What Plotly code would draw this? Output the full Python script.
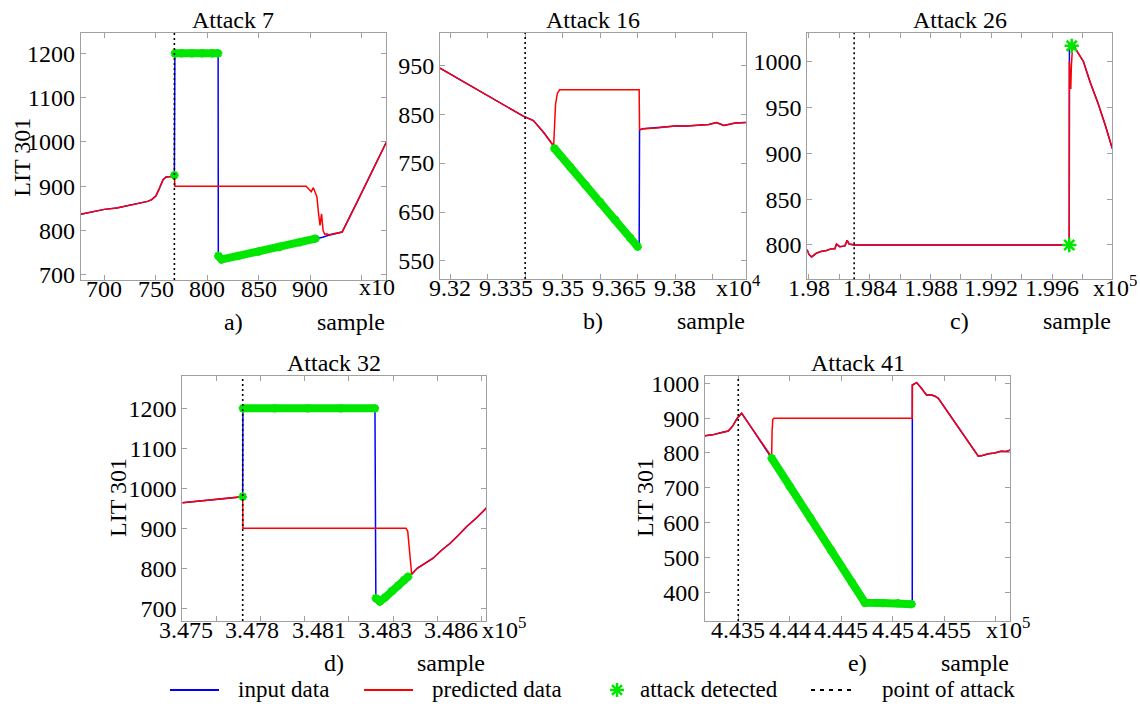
import plotly.graph_objects as go

# ---------------- data ----------------
# Panel a) Attack 7  (x in units of 10 samples)
a_red_x = [677, 690, 700, 712, 725, 735, 742, 746, 750, 753, 757, 760, 765, 768, 768.5, 800, 850, 896,
           899, 901, 903, 905, 906.5, 908, 909.5, 911, 912.5, 914, 916, 918, 925, 931, 945, 960, 974]
a_red_y = [837, 843, 848, 851, 857, 862, 866, 870, 878, 893, 915, 921, 922, 925, 900, 900, 900, 900,
           893, 888, 897, 884, 876, 840, 812, 838, 800, 792, 793, 791, 794, 797, 862, 932, 1000]
a_blue_x = [677, 690, 700, 712, 725, 735, 742, 746, 750, 753, 757, 760, 765, 768, 768.5, 810.5, 810.7,
            814, 830, 850, 870, 890, 905, 912, 917, 925, 931, 945, 960, 974]
a_blue_y = [837, 843, 848, 851, 857, 862, 866, 870, 878, 893, 915, 921, 922, 925, 1200, 1200, 743,
            735, 743, 753, 763, 774, 782, 785, 789, 794, 797, 862, 932, 1000]
a_det_x = [768, None, 768.5, 775, 785, 795, 805, 810.5, None, 810.7, 814, 830, 850, 870, 890, 905]
a_det_y = [925, None, 1200, 1200, 1200, 1200, 1200, 1200, None, 743, 735, 743, 753, 763, 774, 782]
a_attack = 768

# Panel b) Attack 16
b_red_x = [93173, 93280, 93395, 93422, 93450, 93476, 93478, 93481, 93486, 93492, 93600, 93704, 93705,
           93715, 93750, 93780, 93800, 93830, 93860, 93890, 93910, 93930, 93960, 93990]
b_red_y = [944, 897, 846, 837, 812, 785, 830, 870, 893, 900, 900, 900, 818,
           820, 822, 825, 826, 826, 827, 829, 833, 827, 832, 833]
b_blue_x = [93173, 93280, 93395, 93422, 93450, 93476, 93478, 93520, 93560, 93600, 93640, 93680, 93700,
            93704, 93705, 93715, 93750, 93780, 93800, 93830, 93860, 93890, 93910, 93930, 93960, 93990]
b_blue_y = [944, 897, 846, 837, 812, 785, 780, 742, 706, 670, 634, 597, 579,
            579, 818, 820, 822, 825, 826, 826, 827, 829, 833, 827, 832, 833]
b_det_x = [93478, 93520, 93560, 93600, 93640, 93680, 93700]
b_det_y = [780, 742, 706, 670, 634, 597, 579]
b_attack = 93400

# Panel c) Attack 26
c_red_x = [197988, 198000, 198018, 198050, 198080, 198116, 198150, 198171, 198182, 198204, 198237, 198252,
           198265, 198300, 198700, 199100, 199500, 199712, 199713, 199718, 199722, 199726, 199732, 199745,
           199760, 199805, 199850, 199900, 199950, 199995]
c_red_y = [795, 790, 787, 791, 793, 794, 796, 796, 801, 798, 799, 805,
           801, 800, 800, 800, 800, 800, 1000, 985, 970, 995, 1012, 1016,
           1012, 1000, 977, 955, 930, 905]
c_blue_x = [197988, 198000, 198018, 198050, 198080, 198116, 198150, 198171, 198182, 198204, 198237, 198252,
            198265, 198300, 198700, 199100, 199500, 199712, 199713, 199730, 199745,
            199760, 199805, 199850, 199900, 199950, 199995]
c_blue_y = [795, 790, 787, 791, 793, 794, 796, 796, 801, 798, 799, 805,
            801, 800, 800, 800, 800, 800, 1017, 1017, 1016,
            1012, 1000, 977, 955, 930, 905]
c_det_x = [199712, None, 199728]
c_det_y = [800, None, 1017]
c_attack = 198298

# Panel d) Attack 32
d_red_x = [347483, 347520, 347560, 347600, 347640, 347680, 347720, 347756, 347757, 348000, 348300, 348494,
           348502, 348508, 348515, 348520, 348545, 348580, 348617, 348655, 348693, 348730, 348768, 348815, 348860]
d_red_y = [964, 966, 967, 969, 971, 974, 977, 979, 900, 900, 900, 900,
           893, 860, 810, 785, 800, 813, 825, 845, 862, 882, 904, 927, 952]
d_blue_x = [347483, 347520, 347560, 347600, 347640, 347680, 347720, 347756, 347757, 348354, 348358,
            348376, 348400, 348430, 348460, 348485, 348504, 348520, 348545, 348580, 348617, 348655,
            348693, 348730, 348768, 348815, 348860]
d_blue_y = [964, 966, 967, 969, 971, 974, 977, 979, 1200, 1200, 725,
            717, 727, 743, 757, 770, 779, 785, 800, 813, 825, 845,
            862, 882, 904, 927, 952]
d_det_x = [347756, None, 347757, 347900, 348050, 348200, 348354, None, 348358, 348376, 348400, 348430,
           348460, 348485, 348504]
d_det_y = [979, None, 1200, 1200, 1200, 1200, 1200, None, 725, 717, 727, 743, 757, 770, 779]
d_attack = 347756

# Panel e) Attack 41
e_red_x = [443170, 443250, 443330, 443403, 443430, 443451, 443490, 443533, 443600, 443700, 443824, 443828,
           443835, 443845, 444200, 444700, 445189, 445190, 445232, 445280, 445329, 445370, 445410, 445442,
           445550, 445700, 445830, 445870, 445930, 445990, 446050, 446100, 446140]
e_red_y = [849, 852, 858, 863, 872, 880, 900, 914, 885, 842, 789, 860,
           896, 900, 900, 900, 900, 995, 1002, 985, 966, 967, 963, 957,
           911, 847, 791, 793, 798, 800, 805, 804, 808]
e_blue_x = [443170, 443250, 443330, 443403, 443430, 443451, 443490, 443533, 443600, 443700, 443824,
            444000, 444200, 444400, 444600, 444730, 444900, 445050, 445183, 445189, 445190, 445232,
            445280, 445329, 445370, 445410, 445442, 445550, 445700, 445830, 445870, 445930, 445990,
            446050, 446100, 446140]
e_blue_y = [849, 852, 858, 863, 872, 880, 900, 914, 885, 842, 785,
            704, 613, 521, 430, 370, 369, 369, 366, 366, 995, 1002,
            985, 966, 967, 963, 957, 911, 847, 791, 793, 798, 800,
            805, 804, 808]
e_det_x = [443824, 444000, 444200, 444400, 444600, 444730, 444900, 445050, 445183]
e_det_y = [785, 704, 613, 521, 430, 370, 369, 369, 366]
e_attack = 443500

titles = ["Attack 7", "Attack 16", "Attack 26", "Attack 32", "Attack 41"]
letters = ["a)", "b)", "c)", "d)", "e)"]
mults = ["x10", "x10<sup>4</sup>", "x10<sup>5</sup>", "x10<sup>5</sup>", "x10<sup>5</sup>"]
legend_labels = ["input data", "predicted data", "attack detected", "point of attack"]

# x tick marks and x tick labels (labels are not always on a tick mark in the reference)
a_xmarks = [700, 750, 800, 850, 900, 950]
a_xlabpos = [700, 750, 800, 850, 900]
a_xlab = ["700", "750", "800", "850", "900"]
b_xmarks = [93200, 93300, 93400, 93500, 93600, 93700, 93800, 93900]
b_xlabpos = [93200, 93350, 93500, 93650, 93800]
b_xlab = ["9.32", "9.335", "9.35", "9.365", "9.38"]
c_xmarks = [198000, 198200, 198400, 198600, 198800, 199000, 199200, 199400, 199600, 199800]
c_xlabpos = [198000, 198400, 198800, 199200, 199600]
c_xlab = ["1.98", "1.984", "1.988", "1.992", "1.996"]
d_xmarks = [347636, 347836, 348036, 348236, 348436, 348636, 348836]
d_xlabpos = [347500, 347800, 348100, 348400, 348700]
d_xlab = ["3.475", "3.478", "3.481", "3.483", "3.486"]
e_xmarks = [443500, 444000, 444500, 445000, 445500, 446000]
e_xlabpos = [443500, 444000, 444500, 445000, 445500]
e_xlab = ["4.435", "4.44", "4.445", "4.45", "4.455"]

a_yticks = [700, 800, 900, 1000, 1100, 1200]
b_yticks = [550, 650, 750, 850, 950]
c_yticks = [800, 850, 900, 950, 1000]
d_yticks = [700, 800, 900, 1000, 1100, 1200]
e_yticks = [400, 500, 600, 700, 800, 900, 1000]

# ---------------- layout geometry (pixels) ----------------
W, H = 1140, 710
FONT = "Liberation Serif"
BLUE, RED, GREEN = "#0000ff", "#ff0000", "#00e600"
AXC = "#a0a0a0"

panels = [
    dict(box=(80.7, 386, 33, 280), xr=[677, 973.6], yr=[688.7, 1245.8],
         xm=a_xmarks, xlp=a_xlabpos, xl=a_xlab, yt=a_yticks,
         red=(a_red_x, a_red_y), blue=(a_blue_x, a_blue_y), det=(a_det_x, a_det_y), att=a_attack,
         ylab=(21.7, 157), mult_x=357),
    dict(box=(440, 745.7, 33, 279), xr=[93173, 93988], yr=[513, 1016],
         xm=b_xmarks, xlp=b_xlabpos, xl=b_xlab, yt=b_yticks,
         red=(b_red_x, b_red_y), blue=(b_blue_x, b_blue_y), det=(b_det_x, b_det_y), att=b_attack,
         ylab=None, mult_x=714),
    dict(box=(807.3, 1112, 33, 279.3), xr=[197990, 199993], yr=[762.6, 1031],
         xm=c_xmarks, xlp=c_xlabpos, xl=c_xlab, yt=c_yticks,
         red=(c_red_x, c_red_y), blue=(c_blue_x, c_blue_y), det=(c_det_x, c_det_y), att=c_attack,
         ylab=None, mult_x=1091),
    dict(box=(182.3, 486, 376, 621), xr=[347483, 348856], yr=[668, 1281],
         xm=d_xmarks, xlp=d_xlabpos, xl=d_xlab, yt=d_yticks,
         red=(d_red_x, d_red_y), blue=(d_blue_x, d_blue_y), det=(d_det_x, d_det_y), att=d_attack,
         ylab=(118, 498), mult_x=480),
    dict(box=(705, 1010, 376, 621), xr=[443177, 446138], yr=[317.6, 1021],
         xm=e_xmarks, xlp=e_xlabpos, xl=e_xlab, yt=e_yticks,
         red=(e_red_x, e_red_y), blue=(e_blue_x, e_blue_y), det=(e_det_x, e_det_y), att=e_attack,
         ylab=(645, 498), mult_x=984),
]


def px(x):
    return x / W


def py(y):
    return 1 - y / H


fig = go.Figure()
layout = dict(width=W, height=H, autosize=False,
              margin=dict(l=0, r=0, t=0, b=0, pad=0, autoexpand=False),
              paper_bgcolor="white", plot_bgcolor="white", showlegend=False,
              font=dict(family=FONT, color="black", size=23))
annotations = []
shapes = []

for i, p in enumerate(panels):
    n = i + 1
    xa = "x" if n == 1 else f"x{n}"
    ya = "y" if n == 1 else f"y{n}"
    xl, xr_, yt_, yb = p["box"]
    xaxis = dict(domain=[px(xl), px(xr_)], range=p["xr"], anchor=ya, automargin=False,
                 showline=True, linecolor=AXC, linewidth=1, mirror="ticks",
                 showgrid=False, zeroline=False, showticklabels=False,
                 tickmode="array", tickvals=p["xm"],
                 ticks="inside", ticklen=5, tickcolor=AXC)
    yaxis = dict(domain=[py(yb), py(yt_)], range=p["yr"], anchor=xa, automargin=False,
                 showline=True, linecolor=AXC, linewidth=1, mirror="ticks",
                 showgrid=False, zeroline=False,
                 tickmode="array", tickvals=p["yt"],
                 tickfont=dict(family=FONT, size=24, color="black"),
                 ticks="inside", ticklen=5, tickcolor=AXC)
    layout["xaxis" if n == 1 else f"xaxis{n}"] = xaxis
    layout["yaxis" if n == 1 else f"yaxis{n}"] = yaxis

    fig.add_trace(go.Scatter(x=p["blue"][0], y=p["blue"][1], mode="lines",
                             line=dict(color=BLUE, width=1.5), xaxis=xa, yaxis=ya))
    fig.add_trace(go.Scatter(x=p["red"][0], y=p["red"][1], mode="lines",
                             line=dict(color=RED, width=1.5), xaxis=xa, yaxis=ya))
    fig.add_trace(go.Scatter(x=p["det"][0], y=p["det"][1], mode="lines+markers",
                             line=dict(color=GREEN, width=8),
                             marker=dict(symbol="asterisk-open", size=7 if n != 3 else 12,
                                         color=GREEN, line=dict(color=GREEN, width=2.5)),
                             xaxis=xa, yaxis=ya))
    shapes.append(dict(type="line", xref=xa, yref=f"{ya} domain", x0=p["att"], x1=p["att"],
                       y0=0, y1=1, line=dict(color="black", width=1.6, dash="2px,3px")))

    # x tick labels placed at their data positions
    for lp, lt in zip(p["xlp"], p["xl"]):
        annotations.append(dict(text=lt, x=lp, xref=xa, y=py(yb + 9), yref="paper",
                                showarrow=False, xanchor="center", yanchor="middle",
                                font=dict(family=FONT, size=24)))

    cx = (xl + xr_) / 2
    annotations.append(dict(text=titles[i], x=px(cx), y=py(yt_ - 13), xref="paper", yref="paper",
                            showarrow=False, xanchor="center", yanchor="middle",
                            font=dict(family=FONT, size=24)))
    annotations.append(dict(text=letters[i], x=px(cx), y=py(yb + 42), xref="paper", yref="paper",
                            showarrow=False, xanchor="center", yanchor="middle",
                            font=dict(family=FONT, size=24)))
    annotations.append(dict(text="sample", x=px(xr_ + 1), y=py(yb + 42), xref="paper", yref="paper",
                            showarrow=False, xanchor="right", yanchor="middle",
                            font=dict(family=FONT, size=24)))
    annotations.append(dict(text=mults[i], x=px(p["mult_x"]), y=py(yb + 7), xref="paper", yref="paper",
                            showarrow=False, xanchor="left", yanchor="middle",
                            font=dict(family=FONT, size=24)))
    if p["ylab"] is not None:
        annotations.append(dict(text="LIT 301", x=px(p["ylab"][0]), y=py(p["ylab"][1]),
                                xref="paper", yref="paper", showarrow=False, textangle=-90,
                                xanchor="center", yanchor="middle",
                                font=dict(family=FONT, size=24)))

# ---------------- manual legend ----------------
LEG_Y = 690
shapes.append(dict(type="line", xref="paper", yref="paper", x0=px(170), x1=px(219),
                   y0=py(LEG_Y), y1=py(LEG_Y), line=dict(color=BLUE, width=2)))
shapes.append(dict(type="line", xref="paper", yref="paper", x0=px(364), x1=px(413),
                   y0=py(LEG_Y), y1=py(LEG_Y), line=dict(color=RED, width=2)))
shapes.append(dict(type="line", xref="paper", yref="paper", x0=px(811), x1=px(852),
                   y0=py(LEG_Y), y1=py(LEG_Y), line=dict(color="black", width=2, dash="4px,5px")))
# asterisk glyph for "attack detected"
AX, AR = 617, 7
for dx, dy in [(AR, 0), (0, AR), (0.71 * AR, 0.71 * AR), (0.71 * AR, -0.71 * AR)]:
    shapes.append(dict(type="line", xref="paper", yref="paper",
                       x0=px(AX - dx), x1=px(AX + dx), y0=py(LEG_Y - dy), y1=py(LEG_Y + dy),
                       line=dict(color=GREEN, width=2.5)))
for lab, lx in zip(legend_labels, [236, 430, 638, 880]):
    annotations.append(dict(text=lab, x=px(lx), y=py(LEG_Y - 1), xref="paper", yref="paper",
                            showarrow=False, xanchor="left", yanchor="middle",
                            font=dict(family=FONT, size=23)))

layout["annotations"] = annotations
layout["shapes"] = shapes
fig.update_layout(**layout)

fig.write_html("out.html", config={"displayModeBar": False},
               post_script="document.body.style.margin='0';")
